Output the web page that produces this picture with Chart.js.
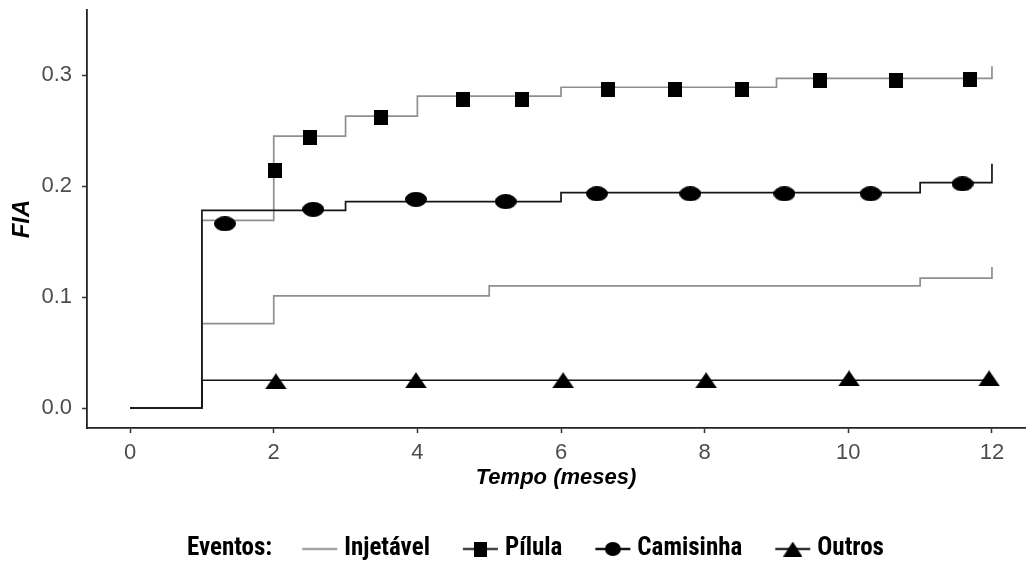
<!DOCTYPE html>
<html>
<head>
<meta charset="utf-8">
<script src="https://cdn.jsdelivr.net/npm/chart.js@4.4.1/dist/chart.umd.min.js"></script>
<style>
  html, body { margin: 0; padding: 0; background: #fff; }
  #chart { display: block; }
</style>
</head>
<body>
<canvas id="chart" width="1028" height="562"></canvas>
<script>
// Dados (função de incidência acumulada por método)
const xTicks = [0, 2, 4, 6, 8, 10, 12];
const yTicks = [0, 0.1, 0.2, 0.3];

// degraus: tempo em que o valor muda e o novo valor
const injetavelT = [0, 1, 2, 5, 11, 12];
const injetavelY = [0, 0.076, 0.101, 0.110, 0.117, 0.127];

const pilulaT = [0, 1, 2, 3, 4, 6, 9, 12];
const pilulaY = [0, 0.169, 0.245, 0.263, 0.281, 0.289, 0.297, 0.308];

const camisinhaT = [0, 1, 3, 6, 11, 12];
const camisinhaY = [0, 0.178, 0.186, 0.194, 0.203, 0.220];

const outrosT = [0, 1, 12];
const outrosY = [0, 0.025, 0.025];

// marcadores
const pilulaMarkT = [2.02, 2.50, 3.50, 4.64, 5.45, 6.66, 7.58, 8.52, 9.61, 10.66, 11.70];
const pilulaMarkY = [0.214, 0.244, 0.262, 0.278, 0.278, 0.287, 0.287, 0.287, 0.295, 0.295, 0.296];

const camisinhaMarkT = [1.32, 2.55, 3.98, 5.23, 6.50, 7.80, 9.11, 10.31, 11.59];
const camisinhaMarkY = [0.166, 0.179, 0.188, 0.186, 0.193, 0.193, 0.193, 0.193, 0.202];

const outrosMarkT = [2.03, 3.98, 6.03, 8.02, 10.01, 11.96];
const outrosMarkY = [0.024, 0.025, 0.025, 0.025, 0.0267, 0.0267];

const legendTitle = 'Eventos:';
const seriesNames = ['Injetável', 'Pílula', 'Camisinha', 'Outros'];

const GRAY = '#8f8f8f';
const BLACK = '#151515';
const FONT = '"Liberation Sans", Arial, sans-serif';
const LEGEND_FONT = 'bold 25px "Roboto Condensed", Roboto, sans-serif';

function pts(xs, ys) {
    return xs.map((x, i) => ({ x: x, y: ys[i] }));
}

function makeMarker(shape, w, h) {
    const c = document.createElement('canvas');
    c.width = w;
    c.height = h;
    const g = c.getContext('2d');
    g.fillStyle = '#000';
    g.beginPath();
    if (shape === 'square') {
        g.rect(0, 0, w, h);
    } else if (shape === 'circle') {
        g.ellipse(w / 2, h / 2, w / 2, h / 2, 0, 0, Math.PI * 2);
    } else {
        g.moveTo(0, h);
        g.lineTo(w / 2, 0);
        g.lineTo(w, h);
        g.closePath();
    }
    g.fill();
    return c;
}

const squareMark = makeMarker('square', 14, 15);
const circleMark = makeMarker('circle', 22, 15);
const triangleMark = makeMarker('triangle', 22, 16);

const legendItems = [
    { label: seriesNames[0], color: '#a5a5a5', marker: null },
    { label: seriesNames[1], color: '#444', marker: makeMarker('square', 13, 15) },
    { label: seriesNames[2], color: BLACK, marker: makeMarker('circle', 16, 14) },
    { label: seriesNames[3], color: '#333', marker: makeMarker('triangle', 19, 15) },
];

// legenda desenhada em linha, com o título à esquerda
const bottomLegend = {
    id: 'bottomLegend',
    afterDraw(chart) {
        const ctx = chart.ctx;
        const y = 549;
        const symW = 35;
        ctx.save();
        ctx.font = LEGEND_FONT;
        ctx.textBaseline = 'middle';
        ctx.fillStyle = '#000';
        let x = 187;
        ctx.fillText(legendTitle, x, y);
        x += ctx.measureText(legendTitle).width + 30;
        legendItems.forEach(item => {
            ctx.strokeStyle = item.color;
            ctx.lineWidth = 2.4;
            ctx.beginPath();
            ctx.moveTo(x, y);
            ctx.lineTo(x + symW, y);
            ctx.stroke();
            if (item.marker) {
                ctx.drawImage(item.marker, x + symW / 2 - item.marker.width / 2, y - item.marker.height / 2);
            }
            x += symW + 7;
            ctx.fillStyle = '#000';
            ctx.fillText(item.label, x, y);
            x += ctx.measureText(item.label).width + 33;
        });
        ctx.restore();
    }
};

const stepLine = (label, data, color) => ({
    type: 'line',
    label: label,
    data: data,
    stepped: 'before',
    borderColor: color,
    borderWidth: 1.7,
    pointRadius: 0,
    fill: false,
});

const markers = (label, data, img) => ({
    type: 'scatter',
    label: label,
    data: data,
    showLine: false,
    pointStyle: img,
    pointRadius: 8,
    pointHoverRadius: 8,
});

new Chart(document.getElementById('chart'), {
    data: {
        datasets: [
            markers(seriesNames[1], pts(pilulaMarkT, pilulaMarkY), squareMark),
            markers(seriesNames[2], pts(camisinhaMarkT, camisinhaMarkY), circleMark),
            markers(seriesNames[3], pts(outrosMarkT, outrosMarkY), triangleMark),
            stepLine(seriesNames[3], pts(outrosT, outrosY), BLACK),
            stepLine(seriesNames[2], pts(camisinhaT, camisinhaY), BLACK),
            stepLine(seriesNames[1], pts(pilulaT, pilulaY), GRAY),
            stepLine(seriesNames[0], pts(injetavelT, injetavelY), GRAY),
        ]
    },
    options: {
        responsive: false,
        animation: false,
        events: [],
        layout: { autoPadding: false, padding: { top: 10, right: 3, left: 0, bottom: 62 } },
        plugins: {
            legend: { display: false },
            tooltip: { enabled: false },
        },
        scales: {
            x: {
                type: 'linear',
                min: -0.6,
                max: 12.46,
                afterFit: s => {
                    s.height = 72;
                    s.paddingLeft = 0;
                    s.paddingRight = 0;
                },
                afterBuildTicks: s => { s.ticks = xTicks.map(v => ({ value: v })); },
                grid: { drawOnChartArea: false, tickLength: 5, tickColor: '#333', tickWidth: 1.5 },
                border: { color: '#222', width: 1.8 },
                ticks: { color: '#4d4d4d', padding: 7, font: { family: FONT, size: 22 } },
                title: {
                    display: true,
                    text: 'Tempo (meses)',
                    color: '#000',
                    padding: { top: 0, bottom: 9 },
                    font: { family: FONT, size: 22, weight: 'bold', style: 'italic' },
                },
            },
            y: {
                type: 'linear',
                min: -0.018,
                max: 0.3586,
                afterFit: s => {
                    s.width = 87;
                    s.paddingTop = 0;
                    s.paddingBottom = 0;
                },
                afterBuildTicks: s => { s.ticks = yTicks.map(v => ({ value: v })); },
                grid: { drawOnChartArea: false, tickLength: 5, tickColor: '#333', tickWidth: 1.5 },
                border: { color: '#222', width: 1.8 },
                ticks: {
                    color: '#4d4d4d',
                    padding: 10,
                    font: { family: FONT, size: 22 },
                    callback: v => v.toFixed(1),
                },
                title: {
                    display: true,
                    text: 'FIA',
                    color: '#000',
                    padding: { top: 8, bottom: 0 },
                    font: { family: FONT, size: 24, weight: 'bold', style: 'italic' },
                },
            },
        },
    },
    plugins: [bottomLegend],
});
</script>
</body>
</html>
